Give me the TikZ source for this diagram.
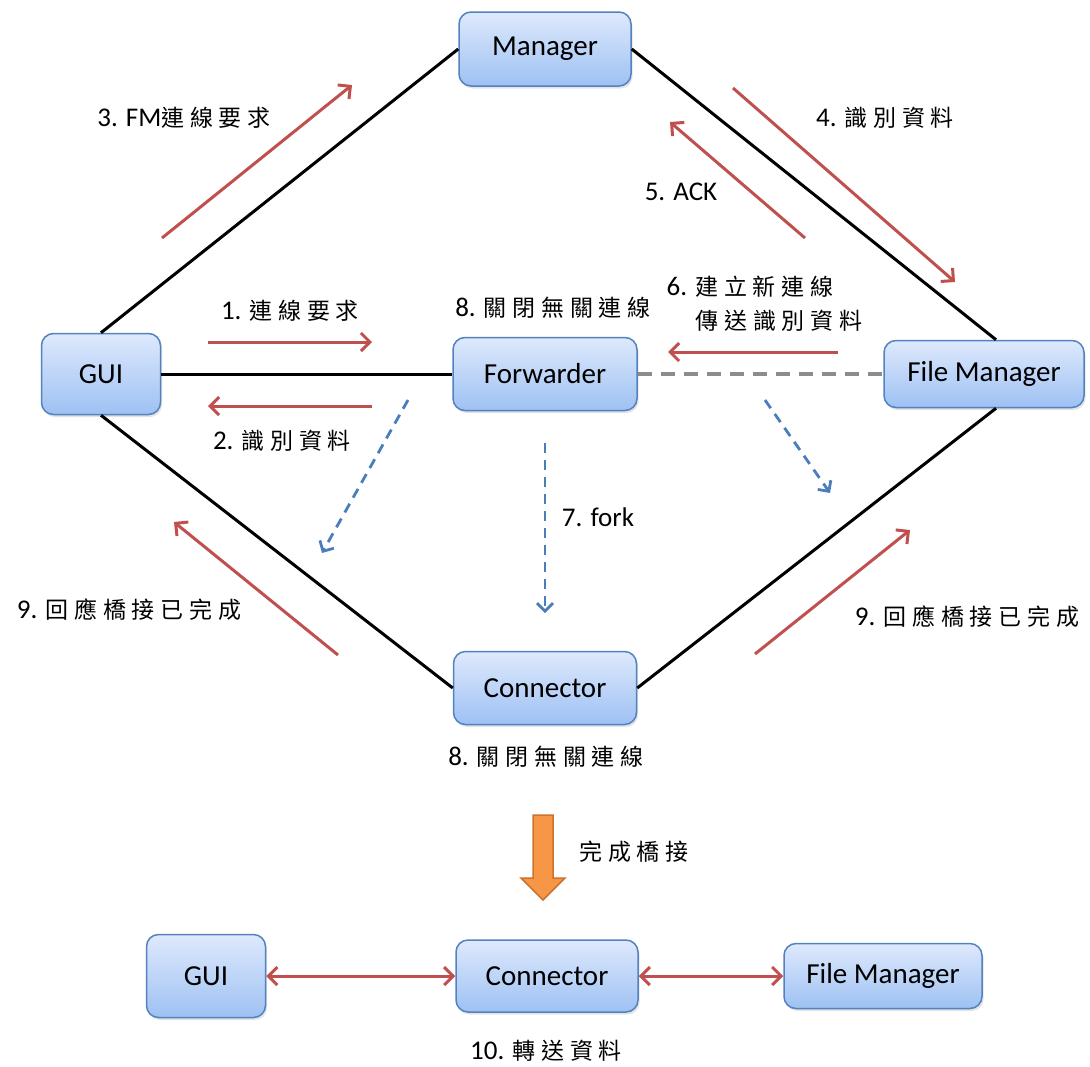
\documentclass[tikz,border=0pt]{standalone}
\usepackage{fontspec}
\setmainfont{Carlito}
\newfontfamily\cjk[LetterSpace=25]{Noto Sans CJK TC}
\usetikzlibrary{arrows.meta,shadows}
\newcommand\zh[1]{{\cjk\fontsize{23}{28}\selectfont #1}}
\definecolor{boxline}{RGB}{82,130,192}
\definecolor{boxtop}{RGB}{222,233,252}
\definecolor{boxbot}{RGB}{158,193,243}
\definecolor{msgred}{RGB}{192,80,77}
\definecolor{forkblue}{RGB}{74,126,187}
\definecolor{arrfill}{RGB}{247,150,70}
\definecolor{arrline}{RGB}{205,115,45}
\begin{document}
\begin{tikzpicture}[x=1pt,y=-1pt,
  box/.style={draw=boxline, line width=1.5pt, rounded corners=12pt,
    top color=boxtop, bottom color=boxbot, inner sep=0pt,
    font=\fontsize{29}{34}\selectfont,
    drop shadow={shadow xshift=1.5pt,shadow yshift=-2.5pt,opacity=0.22}},
  lbl/.style={font=\fontsize{27}{32}\selectfont, inner sep=0pt, anchor=center},
  link/.style={line width=3pt, black},
  graydash/.style={line width=3.5pt, color=black!45, dash pattern=on 14pt off 9pt},
  msg/.style={line width=3pt, msgred, -{Straight Barb[length=9pt,width=18pt]}},
  both/.style={line width=3pt, msgred, {Straight Barb[length=9pt,width=18pt]}-{Straight Barb[length=9pt,width=18pt]}},
  fork/.style={line width=2.8pt, forkblue, dash pattern=on 10pt off 7pt, -{Straight Barb[length=8pt,width=16pt]}}
]
\useasboundingbox (0,0) rectangle (1090,1066);

% main nodes of the handshake
\node[box, minimum width=172pt, minimum height=74pt] (mgr) at (545,49) {Manager};
\node[box, minimum width=119pt, minimum height=81pt] (gui) at (101,374) {GUI};
\node[box, minimum width=184pt, minimum height=73pt] (fwd) at (545,374) {Forwarder};
\node[box, minimum width=200pt, minimum height=67pt] (fm) at (984,374) {File Manager};
\node[box, minimum width=183pt, minimum height=73pt] (con) at (545,688) {Connector};

% links between processes
\draw[link] (gui.north) -- (mgr.west);
\draw[link] (mgr.east) -- ([xshift=12pt]fm.north);
\draw[link] (gui.east) -- (fwd.west);
\draw[link] (gui.south) -- (con.west);
\draw[link] (con.east) -- ([xshift=12pt]fm.south);
\draw[graydash] (fwd.east) -- (fm.west);

% message arrows
\coordinate (m3a) at (162,238); \coordinate (m3b) at (352,85);
\coordinate (m4a) at (733,88);  \coordinate (m4b) at (955,282);
\coordinate (m5a) at (805,238); \coordinate (m5b) at (670,122);
\coordinate (m1a) at (208,342); \coordinate (m1b) at (372,342);
\coordinate (m2a) at (372,406); \coordinate (m2b) at (208,406);
\coordinate (m6a) at (838,352); \coordinate (m6b) at (668,352);
\coordinate (m9a) at (338,655); \coordinate (m9b) at (174,522);
\coordinate (n9a) at (755,654); \coordinate (n9b) at (910,530);
\draw[msg] (m3a) -- (m3b);
\draw[msg] (m4a) -- (m4b);
\draw[msg] (m5a) -- (m5b);
\draw[msg] (m1a) -- (m1b);
\draw[msg] (m2a) -- (m2b);
\draw[msg] (m6a) -- (m6b);
\draw[msg] (m9a) -- (m9b);
\draw[msg] (n9a) -- (n9b);

% fork arrows
\coordinate (f1a) at (408,400); \coordinate (f1b) at (322,553);
\coordinate (f2a) at (545,443); \coordinate (f2b) at (545,613);
\coordinate (f3a) at (765,400); \coordinate (f3b) at (830,493);
\draw[fork] (f1a) -- (f1b);
\draw[fork] (f2a) -- (f2b);
\draw[fork] (f3a) -- (f3b);

% step labels
\node[lbl] (t3) at (184,118) {3. FM\zh{連線要求}};
\node[lbl] (t4) at (885,118) {4. \zh{識別資料}};
\node[lbl] (t5) at (681,192) {5. ACK};
\node[lbl] (t6a) at (750,287) {6. \zh{建立新連線}};
\node[lbl] (t6b) at (779,321) {\zh{傳送識別資料}};
\node[lbl] (t1) at (290,311) {1. \zh{連線要求}};
\node[lbl] (t8a) at (553,308) {8. \zh{關閉無關連線}};
\node[lbl] (t2) at (282,441) {2. \zh{識別資料}};
\node[lbl] (t7) at (598,517) {7. fork};
\node[lbl] (t9a) at (129,610) {9. \zh{回應橋接已完成}};
\node[lbl] (t9b) at (967,617) {9. \zh{回應橋接已完成}};
\node[lbl] (t8b) at (546,757) {8. \zh{關閉無關連線}};

% transition to the bridged state
\draw[line width=1.5pt, draw=arrline, fill=arrfill, line join=miter]
  (533,815) -- (553,815) -- (553,878) -- (565,878) -- (543,900)
  -- (521,878) -- (533,878) -- cycle;
\node[lbl] (tdone) at (634,852) {\zh{完成橋接}};

% bridged state
\node[box, minimum width=119pt, minimum height=83pt] (bgui) at (206,976) {GUI};
\node[box, minimum width=182pt, minimum height=72pt] (bcon) at (547,976) {Connector};
\node[box, minimum width=198pt, minimum height=65pt] (bfm) at (883,976) {File Manager};
\draw[both] (bgui.east) -- (bcon.west);
\draw[both] (bcon.east) -- (bfm.west);
\node[lbl] (t10) at (546,1051) {10. \zh{轉送資料}};
\end{tikzpicture}
\end{document}
